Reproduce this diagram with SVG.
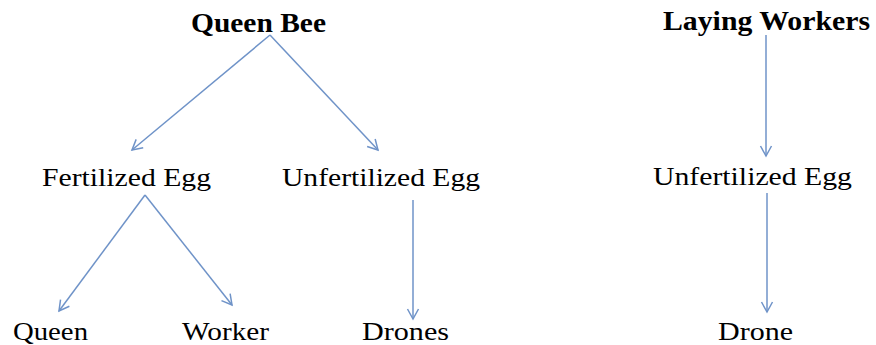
<svg xmlns="http://www.w3.org/2000/svg" width="876" height="345" viewBox="0 0 876 345">
<style>
text{font-family:"Liberation Serif","Times New Roman",serif;fill:#000;font-size:25px}
.h{font-weight:bold;font-size:27px}
.c line{stroke:#6f93c8;stroke-width:1.5;fill:none;marker-end:url(#ah)}
</style>
<defs>
<marker id="ah" markerUnits="userSpaceOnUse" markerWidth="14" markerHeight="14" refX="11" refY="6" orient="auto" viewBox="0 0 14 12">
<path d="M1,0.5 L11,6 L1,11.5" fill="none" stroke="#6f93c8" stroke-width="1.5"/>
</marker>
</defs>
<rect width="876" height="345" fill="#fff"/>
<g id="queen-bee"><text class="h" x="191" y="32" textLength="135" lengthAdjust="spacingAndGlyphs">Queen Bee</text></g>
<g id="laying-workers"><text class="h" x="663" y="30" textLength="207" lengthAdjust="spacingAndGlyphs">Laying Workers</text></g>
<g id="fertilized-egg"><text x="42" y="186" textLength="169" lengthAdjust="spacingAndGlyphs">Fertilized Egg</text></g>
<g id="unfertilized-egg-1"><text x="282" y="186" textLength="198" lengthAdjust="spacingAndGlyphs">Unfertilized Egg</text></g>
<g id="unfertilized-egg-2"><text x="653" y="185" textLength="199" lengthAdjust="spacingAndGlyphs">Unfertilized Egg</text></g>
<g id="queen"><text x="13" y="340" textLength="75" lengthAdjust="spacingAndGlyphs">Queen</text></g>
<g id="worker"><text x="182" y="340" textLength="87" lengthAdjust="spacingAndGlyphs">Worker</text></g>
<g id="drones"><text x="362" y="340" textLength="87" lengthAdjust="spacingAndGlyphs">Drones</text></g>
<g id="drone"><text x="718" y="340" textLength="75" lengthAdjust="spacingAndGlyphs">Drone</text></g>
<g id="connectors" class="c">
<line x1="270" y1="35" x2="132" y2="150"/>
<line x1="270" y1="35" x2="378" y2="150"/>
<line x1="145" y1="195" x2="59" y2="311"/>
<line x1="145" y1="195" x2="232" y2="305"/>
<line x1="413" y1="200" x2="413" y2="319"/>
<line x1="766" y1="35" x2="766" y2="156"/>
<line x1="767" y1="193" x2="767" y2="312"/>
</g>
</svg>
